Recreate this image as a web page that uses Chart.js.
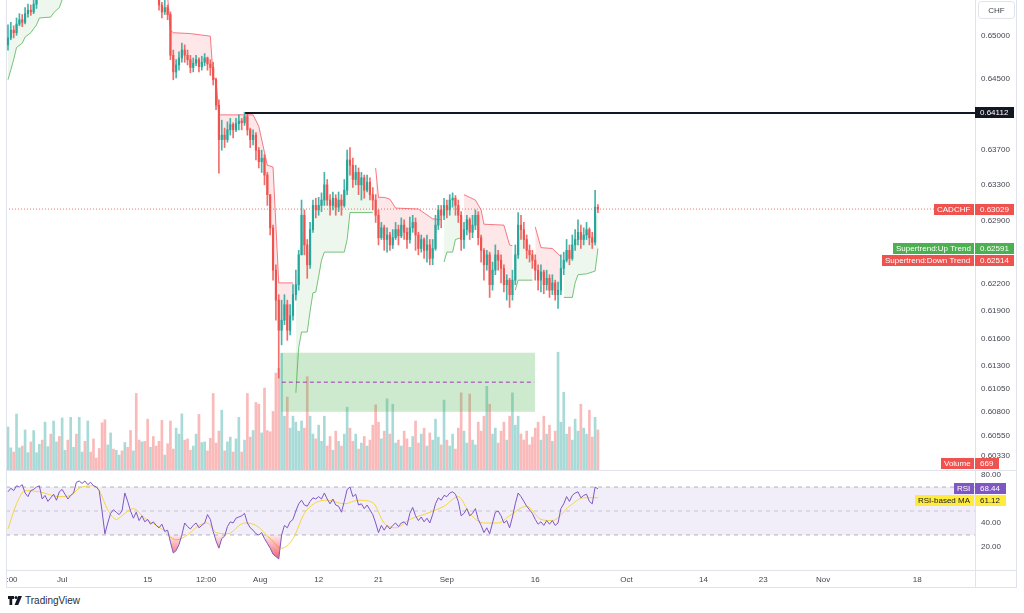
<!DOCTYPE html>
<html><head><meta charset="utf-8">
<script src="https://cdn.jsdelivr.net/npm/chart.js@4.4.1/dist/chart.umd.min.js"></script>
<style>
html,body{margin:0;padding:0;background:#fff;overflow:hidden}
#wrap{position:relative;width:1024px;height:613px;background:#fff}
canvas{position:absolute;left:0}
#c1{top:0}
#c2{top:470px}
#logo{position:absolute;left:8px;top:595px;font:10px "Liberation Sans",Arial,sans-serif;color:#2a2e39;display:flex;align-items:center;gap:3px}
</style></head><body>
<div id="wrap">
<canvas id="c1" width="1024" height="470"></canvas>
<canvas id="c2" width="1024" height="118"></canvas>
<div id="logo"><svg width="14" height="9" viewBox="0 0 14 9"><path d="M0 0h6v3H4.2v6H1.5V3H0z" fill="#131722"/><circle cx="8" cy="1.6" r="1.5" fill="#131722"/><path d="M10.2 0H14l-3.8 9H6.6z" fill="#131722"/></svg><span>TradingView</span></div>
</div>
<script>
// ---------------- DATA ----------------
const firstOpen = 0.6489;
const closes = [
0.6497,0.6506,0.6503,0.6513,0.6518,0.6515,0.6525,0.6529,0.6527,0.6536,
0.6547,0.6552,0.6550,0.6558,0.6564,0.6562,0.6570,0.6573,0.6569,0.6576,
0.6581,0.6579,0.6587,0.6593,0.6590,0.6599,0.6605,0.6601,0.6608,0.6604,
0.6599,0.6593,0.6576,0.6566,0.6558,0.6564,0.6570,0.6566,0.6576,0.6581,
0.6577,0.6585,0.6580,0.6576,0.6579,0.6573,0.6570,0.6573,0.6566,0.6562,
0.6564,0.6557,0.6552,0.6535,0.6527,0.6532,0.6524,0.6477,0.6458,0.6466,
0.6474,0.6483,0.6477,0.6472,0.6463,0.6468,0.6472,0.6464,0.6469,0.6474,
0.6467,0.6463,0.6449,0.6420,0.6381,0.6386,0.6381,0.6392,0.6398,0.6392,
0.6399,0.6402,0.6400,0.6407,0.6392,0.6381,0.6386,0.6369,0.6356,0.6360,
0.6341,0.6319,0.6282,0.6235,0.6202,0.6169,0.6180,0.6197,0.6169,0.6185,
0.6208,0.6219,0.6252,0.6296,0.6263,0.6241,0.6280,0.6307,0.6302,0.6307,
0.6313,0.6330,0.6313,0.6307,0.6315,0.6305,0.6313,0.6307,0.6324,0.6358,
0.6352,0.6336,0.6344,0.6330,0.6338,0.6324,0.6333,0.6319,0.6313,0.6296,
0.6271,0.6282,0.6269,0.6274,0.6263,0.6271,0.6280,0.6273,0.6285,0.6277,
0.6269,0.6282,0.6288,0.6274,0.6259,0.6269,0.6257,0.6263,0.6248,0.6259,
0.6285,0.6302,0.6296,0.6307,0.6302,0.6313,0.6315,0.6307,0.6296,0.6269,
0.6280,0.6291,0.6277,0.6285,0.6296,0.6271,0.6257,0.6241,0.6252,0.6219,
0.6235,0.6252,0.6246,0.6237,0.6219,0.6224,0.6208,0.6224,0.6252,0.6285,
0.6280,0.6269,0.6257,0.6252,0.6246,0.6235,0.6224,0.6233,0.6219,0.6226,
0.6213,0.6221,0.6208,0.6213,0.6237,0.6246,0.6257,0.6248,0.6263,0.6269,
0.6277,0.6269,0.6274,0.6280,0.6271,0.6266,0.6305,0.63029];
const highs = [
0.6512,0.6515,0.6511,0.6520,0.6525,0.6524,0.6532,0.6536,0.6535,0.6543,
0.6553,0.6558,0.6557,0.6565,0.6570,0.6569,0.6576,0.6580,0.6577,0.6582,
0.6588,0.6586,0.6594,0.6600,0.6597,0.6606,0.6612,0.6608,0.6615,0.6611,
0.6607,0.6601,0.6595,0.6579,0.6568,0.6570,0.6576,0.6573,0.6582,0.6587,
0.6584,0.6591,0.6587,0.6583,0.6585,0.6581,0.6576,0.6579,0.6575,0.6569,
0.6570,0.6566,0.6561,0.6547,0.6538,0.6541,0.6535,0.6527,0.6483,0.6472,
0.6481,0.6491,0.6489,0.6483,0.6477,0.6474,0.6477,0.6474,0.6476,0.6479,
0.6475,0.6472,0.6469,0.6451,0.6426,0.6403,0.6394,0.6401,0.6405,0.6400,
0.6405,0.6409,0.6405,0.6412,0.6410,0.6394,0.6392,0.6389,0.6372,0.6369,
0.6364,0.6344,0.6319,0.6285,0.6241,0.6208,0.6202,0.6208,0.6202,0.6197,
0.6219,0.6235,0.6257,0.6313,0.6302,0.6269,0.6288,0.6313,0.6315,0.6316,
0.6321,0.6344,0.6336,0.6319,0.6322,0.6319,0.6322,0.6319,0.6336,0.6369,
0.6372,0.6360,0.6352,0.6349,0.6344,0.6341,0.6341,0.6338,0.6327,0.6319,
0.6302,0.6288,0.6285,0.6282,0.6277,0.6280,0.6288,0.6285,0.6293,0.6291,
0.6282,0.6294,0.6296,0.6293,0.6277,0.6274,0.6271,0.6274,0.6269,0.6269,
0.6296,0.6307,0.6307,0.6315,0.6313,0.6319,0.6321,0.6318,0.6313,0.6300,
0.6288,0.6296,0.6293,0.6296,0.6302,0.6300,0.6274,0.6259,0.6257,0.6255,
0.6244,0.6263,0.6257,0.6252,0.6241,0.6230,0.6226,0.6235,0.6263,0.6299,
0.6296,0.6288,0.6274,0.6263,0.6257,0.6252,0.6241,0.6241,0.6235,0.6235,
0.6230,0.6230,0.6224,0.6222,0.6252,0.6255,0.6269,0.6263,0.6274,0.6280,
0.6291,0.6285,0.6282,0.6288,0.6282,0.6277,0.6324,0.6308];
const lows = [
0.6483,0.6495,0.6497,0.6500,0.6511,0.6510,0.6513,0.6521,0.6523,0.6525,
0.6531,0.6543,0.6544,0.6545,0.6553,0.6556,0.6557,0.6565,0.6563,0.6564,
0.6571,0.6573,0.6575,0.6582,0.6584,0.6586,0.6594,0.6596,0.6597,0.6599,
0.6594,0.6588,0.6570,0.6560,0.6550,0.6553,0.6560,0.6561,0.6562,0.6571,
0.6571,0.6573,0.6575,0.6570,0.6572,0.6567,0.6563,0.6565,0.6560,0.6556,
0.6557,0.6551,0.6546,0.6529,0.6520,0.6524,0.6518,0.6472,0.6449,0.6451,
0.6460,0.6469,0.6469,0.6466,0.6457,0.6458,0.6465,0.6458,0.6460,0.6465,
0.6460,0.6454,0.6443,0.6415,0.6343,0.6369,0.6372,0.6378,0.6386,0.6383,
0.6390,0.6392,0.6392,0.6397,0.6386,0.6372,0.6375,0.6358,0.6349,0.6344,
0.6330,0.6307,0.6274,0.6224,0.6180,0.6117,0.6153,0.6175,0.6158,0.6164,
0.6180,0.6202,0.6213,0.6257,0.6252,0.6226,0.6237,0.6277,0.6293,0.6296,
0.6300,0.6307,0.6307,0.6296,0.6302,0.6296,0.6300,0.6296,0.6305,0.6319,
0.6341,0.6327,0.6330,0.6319,0.6313,0.6315,0.6322,0.6313,0.6302,0.6288,
0.6263,0.6269,0.6257,0.6255,0.6257,0.6259,0.6269,0.6263,0.6271,0.6269,
0.6259,0.6265,0.6277,0.6257,0.6252,0.6255,0.6248,0.6244,0.6241,0.6241,
0.6257,0.6280,0.6282,0.6291,0.6293,0.6296,0.6305,0.6296,0.6288,0.6257,
0.6259,0.6274,0.6269,0.6271,0.6280,0.6263,0.6244,0.6224,0.6235,0.6205,
0.6213,0.6230,0.6235,0.6221,0.6211,0.6202,0.6194,0.6202,0.6219,0.6248,
0.6269,0.6259,0.6248,0.6244,0.6237,0.6224,0.6213,0.6211,0.6209,0.6213,
0.6205,0.6208,0.6202,0.6193,0.6208,0.6230,0.6244,0.6241,0.6246,0.6257,
0.6263,0.6259,0.6263,0.6269,0.6263,0.6259,0.6263,0.6299];
const volumes = [
720,370,300,935,370,400,670,290,470,660,
290,430,500,800,390,600,820,470,560,870,
330,500,880,380,600,880,300,480,820,300,
520,200,360,790,840,420,620,350,330,250,
320,460,380,660,320,1280,500,470,480,850,
380,560,400,480,830,250,440,820,350,700,
600,940,500,520,330,400,600,930,460,470,
320,530,1280,450,650,1000,320,470,550,300,
520,880,300,500,1280,550,660,1130,1100,620,
1370,660,640,980,1620,1700,1950,900,1220,700,
900,800,650,820,700,1560,900,600,520,750,
480,900,400,560,330,650,480,400,600,1050,
700,480,600,350,450,560,400,500,750,1090,
800,520,650,1190,600,1100,450,500,400,650,
520,380,560,820,450,600,700,400,620,500,
850,550,420,1170,500,400,600,350,700,1290,
650,450,1270,500,420,800,650,900,1400,1100,
600,700,450,650,800,500,900,1290,750,900,
600,500,650,420,550,700,800,500,900,600,
750,480,650,1970,800,1300,600,720,500,850,
650,1100,700,600,1000,550,880,669];
const rsiValues = [
66,69,67,71,70,72,65,62,67,68,
70,71,60,63,58,61,64,59,66,68,
64,60,63,65,74,75,73,75,72,74,
71,70,67,50,31,40,48,51,49,47,
50,65,58,50,44,49,42,46,41,43,
39,41,38,36,39,33,34,24,15,17,
22,30,40,37,35,38,40,36,38,40,
47,43,33,25,19,27,29,37,41,40,
44,45,46,48,40,36,34,31,30,32,
27,23,19,14,12,10,30,38,36,41,
43,50,56,59,55,54,58,61,60,62,
60,65,60,56,60,55,54,49,58,68,
70,62,64,55,56,52,55,51,47,40,
32,38,34,38,35,38,40,37,40,41,
38,48,53,46,42,45,41,44,40,47,
56,61,59,63,62,65,66,64,58,46,
48,52,46,48,52,43,38,32,36,31,
40,49,50,46,40,42,36,45,56,65,
62,58,54,51,48,43,39,41,38,42,
39,42,38,40,52,56,62,58,63,65,
66,61,63,64,58,56,70,68.44];
const maIndex = [0,3,6,11,18,22,25,30,32,35,38,41,44,48,54,59,63,67,70,73,77,83,87,92,96,100,104,108,112,118,123,128,132,136,141,147,153,158,162,167,172,176,182,187,191,197,202,207];
const maValues = [35,56,67,66,62,63,69,71,67,51,43,48,52,44,35,26,30,38,40,32,31,40,38,27,19,27,48,57,59,56,59,57,40,36,43,48,54,62,48,40,40,46,54,43,42,54,61,61.12];
const superUp = [
[0,0.6449],[2,0.6472],[3,0.6486],[5,0.6491],[6,0.6498],[8,0.6503],[10,0.6512],[11,0.6520],[15,0.6521],[16,0.6526],[18,0.6532],[19,0.6541],[21,0.6552],
null,
[101,0.6101],[102,0.6150],[103,0.6167],[105,0.6167],[106,0.6190],[107,0.6210],[108,0.6211],[109,0.6228],[110,0.6246],[111,0.6255],[118,0.6255],[119,0.6269],[120,0.6299],[128,0.6299],
null,
[153,0.6244],[154,0.6255],[156,0.6255],[157,0.6269],[159,0.6271],
null,
[178,0.6213],[179,0.6224],[184,0.6224],
null,
[195,0.6205],[198,0.6205],[199,0.6221],[200,0.6230],[203,0.6231],[206,0.6234],[207,0.62591]];
const superDown = [
[56,0.6545],[57,0.6506],[58,0.6503],[64,0.6502],[71,0.6499],[72,0.6452],[73,0.6449],[74,0.6409],[86,0.6409],[88,0.6396],[91,0.6352],[93,0.6350],[95,0.6221],[100,0.6221],
null,
[129,0.6349],[130,0.6316],[132,0.6316],[134,0.6314],[136,0.6304],[144,0.6303],[149,0.6292],[152,0.6291],
null,
[160,0.6319],[164,0.6313],[166,0.6302],[167,0.6286],[174,0.6285],[175,0.6274],[176,0.6263],[177,0.6262],
null,
[185,0.6283],[187,0.6260],[191,0.6259],[194,0.6250]];
const superUpLast = 0.62591, superDownLast = 0.62514;
const priceTicks = [0.65, 0.645, 0.637, 0.633, 0.629, 0.622, 0.619, 0.616, 0.613, 0.6105, 0.608, 0.6055, 0.6033];
const priceMin = 0.60181, priceMax = 0.65408;
const levelStart = 83.2, levelValue = 0.64112;
const lastPrice = 0.63029;
const zoneStart = 95.7, zoneEnd = 185, zoneTop = 0.61445, zoneBottom = 0.60806, zoneMid = 0.61124;
const volumeLast = 669, volumeMax = 7860;
const rsiLast = 68.44, maLast = 61.12;
const rsiTicks = [20, 40, 80];
const rsiMin = 0.8, rsiMax = 84.2;
const timeTickIndex = [1.4, 19, 49, 69.5, 88.5, 109, 130, 154, 185, 217, 244, 265, 286, 319];
const timeTickLabels = [':00','Jul','15','12:00','Aug','12','21','Sep','16','Oct','14','23','Nov','18'];
const xMin = -0.7, xMax = 339.3;

// ---------------- BUILD ----------------
Chart.defaults.font.family = '"Liberation Sans", Arial, sans-serif';
Chart.defaults.font.size = 8;
Chart.defaults.color = '#434651';
Chart.defaults.animation = false;

const UP = '#26a69a', DN = '#ef5350', FRAME = '#e0e3eb';
const idx = closes.map((_, i) => i);
const opens = [firstOpen].concat(closes.slice(0, -1));
const isUp = closes.map((c, i) => c >= opens[i]);
function toPts(pairs) {
  const out = [];
  pairs.forEach((p, k) => { if (p === null) out.push({x: pairs[k-1][0] + 0.5, y: null}); else out.push({x: p[0], y: p[1]}); });
  return out;
}
const badgeFont = '8px "Liberation Sans", Arial, sans-serif';
function box(ctx, x, yc, w, h, bg, txt, fg, tx) {
  const top = Math.round(yc - h / 2);
  ctx.fillStyle = bg; ctx.fillRect(x, top, w, h);
  ctx.fillStyle = fg; ctx.textBaseline = 'middle'; ctx.textAlign = 'left';
  ctx.fillText(txt, tx, top + h / 2 + 0.5);
}
function nameTag(ctx, xr, yc, txt, bg, fg) {
  const w = Math.ceil(ctx.measureText(txt).width) + 6;
  box(ctx, xr - w, yc, w, 11, bg, txt, fg, xr - w + 3);
}
function valueTag(ctx, xl, yc, txt, bg, fg) {
  const w = Math.ceil(ctx.measureText(txt).width) + 10;
  box(ctx, xl, yc, w, 11, bg, txt, fg, xl + 5);
}
function vline(ctx, x, y0, y1) { ctx.beginPath(); ctx.moveTo(x, y0); ctx.lineTo(x, y1); ctx.stroke(); }
function hline(ctx, y, x0, x1) { ctx.beginPath(); ctx.moveTo(x0, y); ctx.lineTo(x1, y); ctx.stroke(); }

const mainDecor = {
  id: 'mainDecor',
  afterDraw(chart) {
    const {ctx, chartArea: a} = chart; const y = chart.scales.y;
    ctx.save();
    ctx.strokeStyle = FRAME; ctx.lineWidth = 1;
    vline(ctx, 6.5, 0, chart.height); vline(ctx, 1016.5, 0, chart.height);
    ctx.font = badgeFont;
    ctx.beginPath(); ctx.roundRect(978.5, 1.5, 36, 17, 3); ctx.fillStyle = '#fff'; ctx.fill(); ctx.stroke();
    ctx.fillStyle = '#434651'; ctx.textAlign = 'center'; ctx.textBaseline = 'middle'; ctx.fillText('CHF', 996.5, 10.5);
    valueTag(ctx, a.right, y.getPixelForValue(levelValue), levelValue.toFixed(5), '#131722', '#ffffff');
    const yp = y.getPixelForValue(lastPrice);
    nameTag(ctx, a.right - 1, yp, 'CADCHF', DN, '#fff');
    valueTag(ctx, a.right, yp, lastPrice.toFixed(5), DN, '#fff');
    const yu = y.getPixelForValue(superUpLast);
    const yd = Math.max(y.getPixelForValue(superDownLast), yu + 12);
    nameTag(ctx, a.right - 1, yu, 'Supertrend:Up Trend', '#4caf50', '#fff');
    valueTag(ctx, a.right, yu, superUpLast.toFixed(5), '#4caf50', '#fff');
    nameTag(ctx, a.right - 1, yd, 'Supertrend:Down Trend', DN, '#fff');
    valueTag(ctx, a.right, yd, superDownLast.toFixed(5), DN, '#fff');
    const yv = a.bottom - 6.5;
    nameTag(ctx, a.right - 1, yv, 'Volume', DN, '#fff');
    valueTag(ctx, a.right, yv, String(volumeLast), DN, '#fff');
    ctx.restore();
  }
};

const main = new Chart(document.getElementById('c1'), {
  type: 'line',
  data: { datasets: [
    {type:'line', data:[{x:levelStart,y:levelValue},{x:xMax,y:levelValue}], borderColor:'#131722', borderWidth:2, pointRadius:0, order:0},
    {type:'line', data:[{x:xMin,y:lastPrice},{x:xMax,y:lastPrice}], borderColor:'rgba(239,83,80,0.8)', borderWidth:1, borderDash:[1,2], pointRadius:0, order:0},
    {type:'line', data:[{x:zoneStart+0.4,y:zoneMid},{x:zoneEnd-0.4,y:zoneMid}], borderColor:'rgba(156,39,176,0.6)', borderWidth:1.3, borderDash:[4,3], pointRadius:0, order:1},
    {type:'bar', data: idx.map(i => ({x:i, y:[opens[i], closes[i]]})), backgroundColor: isUp.map(u => u ? UP : DN), barThickness:1.5, minBarLength:1, grouped:false, borderWidth:0, order:2},
    {type:'bar', data: idx.map(i => ({x:i, y:[Math.min(lows[i], opens[i], closes[i]), Math.max(highs[i], opens[i], closes[i])]})), backgroundColor: isUp.map(u => u ? 'rgba(38,166,154,0.85)' : 'rgba(239,83,80,0.85)'), barThickness:1, grouped:false, borderWidth:0, order:3},
    {type:'line', data: toPts(superUp), borderColor:'rgba(76,175,80,0.75)', borderWidth:1, pointRadius:0, fill:{target:7}, backgroundColor:'rgba(76,175,80,0.10)', order:5},
    {type:'line', data: toPts(superDown), borderColor:'rgba(242,54,69,0.65)', borderWidth:1, pointRadius:0, fill:{target:7}, backgroundColor:'rgba(242,54,69,0.12)', order:5},
    {type:'line', data: idx.map(i => ({x:i, y:(opens[i] + closes[i]) / 2})), borderColor:'rgba(0,0,0,0)', borderWidth:0, pointRadius:0, fill:false, order:6},
    {type:'line', data:[{x:zoneStart,y:zoneTop},{x:zoneEnd,y:zoneTop}], borderColor:'rgba(0,0,0,0)', borderWidth:0, pointRadius:0, fill:'+1', backgroundColor:'rgba(76,175,80,0.28)', order:8},
    {type:'line', data:[{x:zoneStart,y:zoneBottom},{x:zoneEnd,y:zoneBottom}], borderColor:'rgba(0,0,0,0)', borderWidth:0, pointRadius:0, fill:false, order:8},
    {type:'bar', yAxisID:'yv', data: idx.map(i => ({x:i, y:volumes[i]})), backgroundColor: isUp.map(u => u ? 'rgba(38,166,154,0.40)' : 'rgba(239,83,80,0.40)'), barThickness:2, grouped:false, borderWidth:0, order:9}
  ]},
  options: {
    responsive:false, animation:false, events:[],
    layout:{padding:{left:6, right:7, top:0, bottom:0}},
    plugins:{legend:{display:false}, tooltip:{enabled:false}, filler:{propagate:false}},
    scales:{
      x:{type:'linear', min:xMin, max:xMax, display:false, offset:false, grid:{display:false}},
      y:{type:'logarithmic', position:'right', min:priceMin, max:priceMax,
         afterBuildTicks: s => { s.ticks = priceTicks.map(v => ({value:v})); },
         afterFit: s => { s.width = 42; s.paddingTop = 0; s.paddingBottom = 0; },
         ticks:{autoSkip:false, padding:6, color:'#434651', font:{size:8}, callback: v => Number(v).toFixed(5)},
         grid:{display:false, drawTicks:false}, border:{display:true, color:FRAME}},
      yv:{type:'linear', display:false, min:0, max:volumeMax, position:'left'}
    }
  },
  plugins:[mainDecor]
});

const rsiDecor = {
  id: 'rsiDecor',
  afterDraw(chart) {
    const {ctx, chartArea: a} = chart; const y = chart.scales.y;
    ctx.save();
    ctx.strokeStyle = FRAME; ctx.lineWidth = 1;
    hline(ctx, 0.5, 6, 1017); hline(ctx, chart.height - 0.5, 6, 1017);
    hline(ctx, a.bottom + 0.5, a.right, 1017);
    vline(ctx, 6.5, 0, chart.height); vline(ctx, 1016.5, 0, chart.height);
    vline(ctx, a.right + 0.5, a.bottom, chart.height);
    ctx.font = badgeFont;
    const yr = y.getPixelForValue(rsiLast);
    const ym = Math.max(y.getPixelForValue(maLast), yr + 12);
    nameTag(ctx, a.right - 1, yr, 'RSI', '#7e57c2', '#fff');
    valueTag(ctx, a.right, yr, rsiLast.toFixed(2), '#7e57c2', '#fff');
    nameTag(ctx, a.right - 1, ym, 'RSI-based MA', '#ffeb3b', '#131722');
    valueTag(ctx, a.right, ym, maLast.toFixed(2), '#ffeb3b', '#131722');
    ctx.restore();
  }
};

function oversoldFill(c) {
  const ch = c.chart, s = ch.scales && ch.scales.y;
  if (!ch.chartArea || !s) return 'rgba(242,54,69,0.4)';
  const g = ch.ctx.createLinearGradient(0, s.getPixelForValue(30), 0, s.getPixelForValue(6));
  g.addColorStop(0, 'rgba(242,54,69,0.10)');
  g.addColorStop(1, 'rgba(242,54,69,0.95)');
  return g;
}

const rsiChart = new Chart(document.getElementById('c2'), {
  type: 'line',
  data: { datasets: [
    {data: idx.map(i => ({x:i, y:rsiValues[i]})), borderColor:'#7e57c2', borderWidth:1, pointRadius:0, fill:{target:{value:30}, above:'rgba(0,0,0,0)'}, backgroundColor: oversoldFill, order:1},
    {data: maIndex.map((v, k) => ({x:v, y:maValues[k]})), borderColor:'#f5d53c', borderWidth:1, pointRadius:0, cubicInterpolationMode:'monotone', fill:false, order:2},
    {data:[{x:xMin,y:70},{x:xMax,y:70}], borderColor:'rgba(120,123,134,0.55)', borderWidth:1, borderDash:[4,4], pointRadius:0, fill:{target:4}, backgroundColor:'rgba(126,87,194,0.10)', order:5},
    {data:[{x:xMin,y:50},{x:xMax,y:50}], borderColor:'rgba(120,123,134,0.35)', borderWidth:1, borderDash:[4,4], pointRadius:0, fill:false, order:5},
    {data:[{x:xMin,y:30},{x:xMax,y:30}], borderColor:'rgba(120,123,134,0.55)', borderWidth:1, borderDash:[4,4], pointRadius:0, fill:false, order:5}
  ]},
  options: {
    responsive:false, animation:false, events:[],
    layout:{padding:{left:6, right:7, top:0, bottom:0}},
    plugins:{legend:{display:false}, tooltip:{enabled:false}, filler:{propagate:false}},
    scales:{
      x:{type:'linear', position:'bottom', min:xMin, max:xMax, offset:false,
         afterBuildTicks: s => { s.ticks = timeTickIndex.map(v => ({value:v})); },
         afterFit: s => { s.height = 18; s.paddingLeft = 0; s.paddingRight = 0; },
         ticks:{autoSkip:false, maxRotation:0, padding:5, color:'#434651', font:{size:8}, callback: (v, i) => timeTickLabels[i]},
         grid:{display:false, drawTicks:false}, border:{display:true, color:FRAME}},
      y:{type:'linear', position:'right', min:rsiMin, max:rsiMax,
         afterBuildTicks: s => { s.ticks = rsiTicks.map(v => ({value:v})); },
         afterFit: s => { s.width = 42; s.paddingTop = 0; s.paddingBottom = 0; },
         ticks:{autoSkip:false, padding:6, color:'#434651', font:{size:8}, callback: v => Number(v).toFixed(2)},
         grid:{display:false, drawTicks:false}, border:{display:true, color:FRAME}}
    }
  },
  plugins:[rsiDecor]
});
</script>
</body></html>
